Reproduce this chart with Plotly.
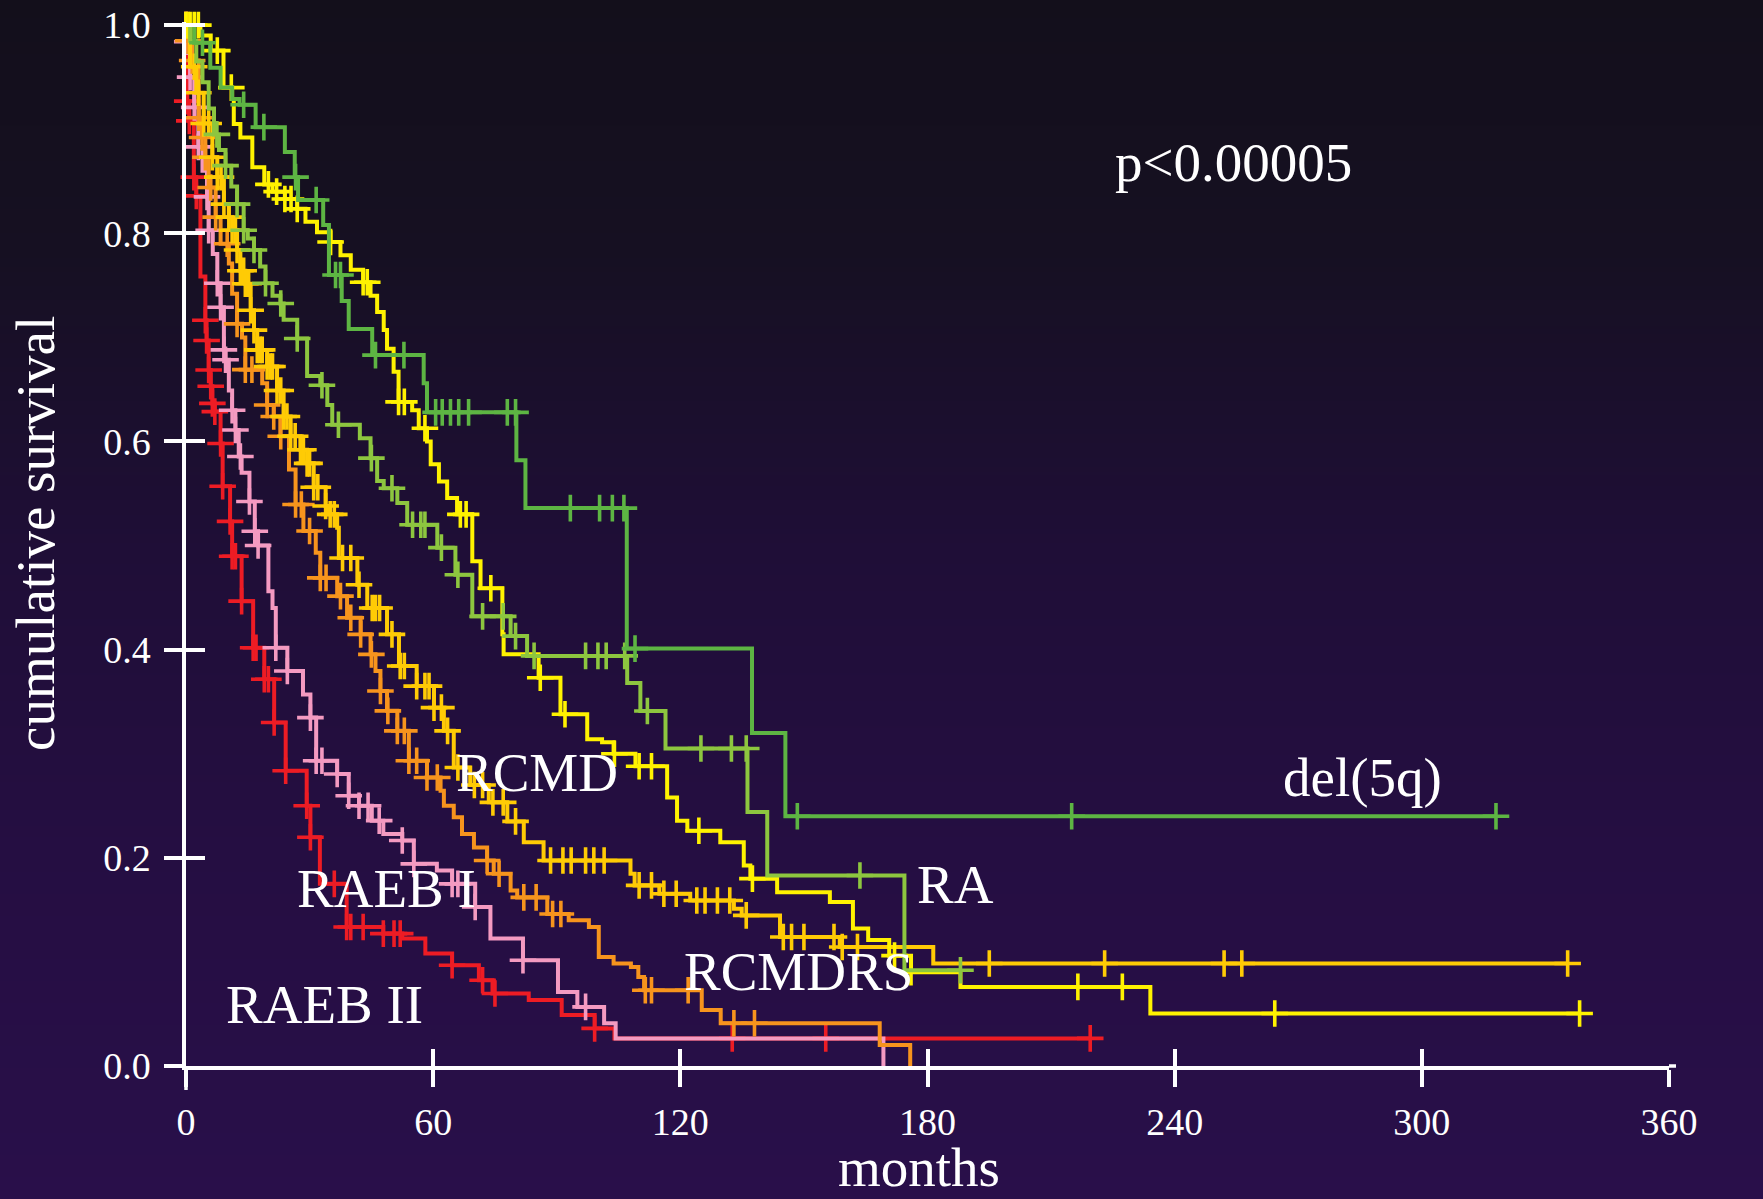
import base64
import bisect
import struct
import zlib

import plotly.graph_objects as go

# ---------------- data (months, cumulative survival) ----------------
x_ticks = [0, 60, 120, 180, 240, 300, 360]
y_ticks = [0.0, 0.2, 0.4, 0.6, 0.8, 1.0]
y_tick_labels = ["0.0", "0.2", "0.4", "0.6", "0.8", "1.0"]

# del(5q)
del5q_t = [2, 5.9, 8.4, 11.2, 13, 16.9, 24, 26.4, 27.2, 33.3, 34.7, 37.8, 39.5, 45.2,
           57.7, 58.5, 80.2, 82.4, 107, 137.4, 145.5]
del5q_s = [0.983, 0.959, 0.94, 0.929, 0.9235, 0.902, 0.878, 0.854, 0.832, 0.808, 0.760,
           0.735, 0.708, 0.683, 0.656, 0.628, 0.582, 0.536, 0.401, 0.320, 0.240]
del5q_c = [4, 14, 18.9, 26.6, 31.6, 36.3, 37.5, 46, 52.9, 60.6, 62.2, 64.2, 66.2, 68.6,
           78, 80, 93.3, 100.4, 103.5, 106.3, 109, 148.4, 215, 318]

# RA
ra_t = [1, 2.5, 4, 5.5, 6.8, 8, 9.6, 11, 12.4, 14, 15, 16.5, 18, 19.3, 21, 22.9, 23.7,
        27, 29.4, 32.6, 34.3, 35.5, 42.2, 44.8, 46.4, 48, 51.3, 53.7, 61, 65.4, 69.5,
        78.8, 82.8, 107.1, 110.3, 116.4, 136.3, 141.1, 174.4]
ra_s = [0.985, 0.965, 0.945, 0.92, 0.895, 0.88, 0.865, 0.845, 0.828, 0.803, 0.795,
        0.784, 0.768, 0.752, 0.74, 0.7325, 0.717, 0.699, 0.663, 0.654, 0.635, 0.616,
        0.603, 0.584, 0.562, 0.555, 0.541, 0.52, 0.498, 0.472, 0.432, 0.413, 0.394,
        0.368, 0.341, 0.305, 0.244, 0.183, 0.092]
ra_c = [7.5, 9.6, 12.4, 14, 16.5, 19.3, 23, 27, 33, 37, 45, 50, 55, 57, 58, 62, 66, 72,
        77, 80, 84.5, 97, 100, 102, 106.5, 112, 125, 132.4, 136, 163.6, 188]

# RARS
rars_t = [3.5, 6, 9.1, 11.2, 11.6, 13.2, 16.1, 19, 21, 24, 27, 29, 31.8, 35.1, 37.5, 40,
          43, 44.8, 46.4, 48, 48.8, 50.4, 51.6, 54.9, 56.5, 58.5, 59.4, 61.4, 63.4,
          65.8, 69.5, 71.5, 76.8, 77.1, 85.6, 90.9, 97.4, 101, 103.8, 109.1, 116.8,
          119.2, 121.7, 129.7, 135.4, 137, 143.5, 156.3, 161.9, 165.6, 170.7, 176,
          188, 234.1]
rars_s = [0.99, 0.9755, 0.94, 0.929, 0.905, 0.892, 0.8635, 0.847, 0.84, 0.833, 0.8235,
          0.811, 0.801, 0.7916, 0.779, 0.765, 0.753, 0.74, 0.7245, 0.707, 0.689, 0.667,
          0.638, 0.630, 0.6127, 0.600, 0.578, 0.5616, 0.5456, 0.530, 0.485, 0.459,
          0.4147, 0.3955, 0.373, 0.338, 0.314, 0.311, 0.30, 0.288, 0.258, 0.2357,
          0.226, 0.215, 0.1926, 0.180, 0.167, 0.1575, 0.132, 0.121, 0.106, 0.090,
          0.076, 0.0505]
rars_c = [0, 1, 2, 3, 7.6, 11, 20, 22, 24, 25.5, 27, 35.1, 43, 44, 51.6, 53, 58, 66.6,
          68, 74, 86, 92, 104, 110, 113, 124.5, 137.5, 172, 176, 216.5, 227.3, 264.3,
          338.3]

# RCMD
rcmd_t = [1, 2.5, 4.3, 6.4, 7.6, 9.2, 10.4, 11.2, 12.4, 13.2, 14.4, 15.7, 16.5, 17.3,
          19.7, 22.1, 23.7, 25.4, 27.8, 29.4, 31, 33.9, 34.3, 36.7, 37.1, 41.6, 44,
          48.8, 51.7, 56, 60.2, 62.6, 65, 69, 73.5, 78, 82, 86.8, 107.9, 108.9, 114.9,
          122.4, 133, 134.9, 144.2, 158.7, 181.4]
rcmd_s = [0.96, 0.935, 0.9055, 0.873, 0.854, 0.828, 0.8155, 0.803, 0.784, 0.764,
          0.7516, 0.726, 0.707, 0.688, 0.672, 0.649, 0.624, 0.605, 0.592, 0.579, 0.556,
          0.538, 0.530, 0.517, 0.488, 0.4624, 0.44, 0.4147, 0.3843, 0.365, 0.3443,
          0.322, 0.2868, 0.27, 0.2533, 0.235, 0.215, 0.1974, 0.1847, 0.1735, 0.1655,
          0.159, 0.151, 0.1447, 0.124, 0.1143, 0.0985]
rcmd_c = [0, 0.5, 2, 3, 4.3, 5.5, 6.4, 7.6, 8.5, 9.2, 10.4, 11.2, 12, 12.4, 13.2, 14,
          14.4, 15.2, 15.7, 16.5, 17.3, 18, 18.5, 19.7, 20.5, 21, 22.1, 23, 23.7, 24.5,
          25.4, 26.5, 27.8, 28.5, 29.4, 30, 31, 32, 33.9, 35, 36, 38, 40, 42, 45.2, 46,
          47, 50, 52, 53, 56, 58, 59, 60.2, 62, 63.5, 66, 70, 72, 74.5, 77, 80, 88.5,
          91.5, 93.5, 97, 99, 101.5, 110, 113, 116, 119, 124, 126, 129, 132, 136, 145,
          147, 150, 157.3, 159.3, 163, 195, 223, 252, 256.3, 335.4]

# RCMDRS
rcmdrs_t = [0.5, 1.5, 3.1, 3.9, 4.7, 5.5, 7.2, 8.4, 10.4, 11.2, 12.4, 13.6, 14.4, 18.5,
            19.7, 21.3, 22.9, 25, 26.6, 28.5, 31.5, 32.6, 36.7, 39.1, 42.4, 44.8, 46,
            47.2, 48.8, 51.3, 54.1, 58.5, 61.8, 62.6, 65, 67, 69.9, 73.1, 74.7, 78.8,
            80.4, 87.7, 92.9, 97.8, 100.2, 103.8, 108, 109.8, 111.2, 125.2, 129.8,
            168.4, 175.8]
rcmdrs_s = [0.985, 0.966, 0.911, 0.892, 0.873, 0.844, 0.8155, 0.79, 0.771, 0.742,
            0.713, 0.70, 0.669, 0.656, 0.635, 0.624, 0.605, 0.573, 0.5395, 0.514,
            0.493, 0.469, 0.4514, 0.4306, 0.4147, 0.3955, 0.3795, 0.3603, 0.3412,
            0.322, 0.2933, 0.2772, 0.2645, 0.25, 0.239, 0.223, 0.21, 0.1974, 0.1847,
            0.1687, 0.162, 0.146, 0.14, 0.1335, 0.1047, 0.0985, 0.095, 0.0856, 0.0728,
            0.0537, 0.041, 0.0201, 0.0]
rcmdrs_c = [0.5, 1.5, 3.1, 3.9, 4.7, 6, 7.2, 10, 12.4, 14.4, 16, 19.7, 21.3, 23, 26.6,
            28, 30, 32.6, 34, 37.5, 40, 42.4, 45, 47.2, 49, 51.3, 53, 54.1, 56, 58.5,
            61, 73.1, 76, 82, 85, 89, 91, 111.5, 113, 121.9, 133, 138]

# RAEB I
raeb1_t = [0.3, 1, 2, 3, 4, 5.1, 5.5, 6.5, 7.6, 8.4, 9.2, 9.6, 10.4, 11.2, 12, 12.8,
           13.5, 15.4, 16.7, 17.5, 20, 21, 21.8, 24.6, 28.4, 30.2, 31.6, 36.7, 39.5,
           42, 45.1, 47.9, 52.5, 55.3, 60.9, 64.6, 70.2, 73.9, 81.8, 90.3, 95, 101.5,
           104.3, 169.3]
raeb1_s = [0.984, 0.95, 0.921, 0.883, 0.86, 0.835, 0.803, 0.78, 0.752, 0.729, 0.688,
           0.6785, 0.649, 0.630, 0.611, 0.5855, 0.57, 0.5424, 0.5137, 0.5, 0.456, 0.44,
           0.4018, 0.3795, 0.357, 0.3347, 0.2932, 0.2805, 0.2597, 0.25, 0.2357, 0.223,
           0.2166, 0.1942, 0.1878, 0.175, 0.1527, 0.1224, 0.1016, 0.0712, 0.0568,
           0.041, 0.0265, 0.0]
raeb1_c = [0, 0.3, 1, 2, 3, 5.1, 5.5, 7.6, 8.4, 9.2, 9.6, 11.2, 12, 13.2, 15.4, 16.7,
           17.5, 21.8, 24.6, 30.2, 31.6, 33, 36.7, 39.5, 42, 44.2, 46.9, 52.5, 55.3,
           64.6, 66, 70.2, 81.8, 97]

# RAEB II
raeb2_t = [0.1, 0.3, 0.8, 1.9, 2.5, 3.5, 4.7, 5, 5.5, 6, 6.4, 7, 8.4, 8.9, 10.7, 11.2,
           13.5, 16.3, 19, 21.4, 24.2, 29.3, 30.2, 32.5, 39, 47.9, 52.5, 58.1, 64.6,
           71.1, 74.4, 83.2, 91.2, 99.2, 104]
raeb2_s = [0.966, 0.927, 0.908, 0.854, 0.836, 0.7585, 0.7165, 0.697, 0.6686, 0.653,
           0.6366, 0.6287, 0.598, 0.557, 0.5232, 0.4897, 0.4466, 0.4018, 0.3715, 0.33,
           0.2837, 0.2501, 0.2197, 0.175, 0.1335, 0.1272, 0.1224, 0.108, 0.0968,
           0.0824, 0.0697, 0.0633, 0.0489, 0.0361, 0.0265]
raeb2_c = [0, 0.3, 0.8, 1.9, 2.5, 4.7, 5, 5.5, 6, 6.4, 7, 8.4, 8.9, 10.7, 11.2, 12, 13.5,
           16.3, 17, 19, 20, 21.4, 24.2, 29.3, 30.2, 36, 39, 40, 43, 47.9, 50.5, 52,
           64.6, 72, 75, 99.2, 132.6, 155.3, 219.5]

# curve labels and their positions (months, survival)
label_text = ["RCMD", "RCMDRS", "RA", "del(5q)", "RARS", "RAEB I", "RAEB II"]
label_x = [85.1, 148.6, 186.7, 285.7, 364.1, 48.6, 33.7]
label_y = [0.282, 0.0912, 0.1742, 0.277, 0.0472, 0.1703, 0.0587]
pvalue_text = "p<0.00005"
pvalue_pos = (254.2, 0.868)

# ---------------- styling ----------------
FONT = "Liberation Serif"
W, H = 1763, 1199
ML, MR, MT, MB = 186, 94, 22, 133
PW, PH = W - ML - MR, H - MT - MB

curves = [
    ("RAEB II", raeb2_t, raeb2_s, raeb2_c, "#ed1c24"),
    ("RAEB I", raeb1_t, raeb1_s, raeb1_c, "#f49ac1"),
    ("RCMDRS", rcmdrs_t, rcmdrs_s, rcmdrs_c, "#f7941d"),
    ("RCMD", rcmd_t, rcmd_s, rcmd_c, "#ffcb05"),
    ("RARS", rars_t, rars_s, rars_c, "#fff200"),
    ("RA", ra_t, ra_s, ra_c, "#8dc63f"),
    ("del(5q)", del5q_t, del5q_s, del5q_c, "#5db543"),
]


def step_xy(t, s, c):
    xs, ys = [0.0], [1.0]
    for ti, si in zip(t, s):
        xs.append(ti)
        ys.append(si)
    end = max(c) if c else xs[-1]
    if end > xs[-1] and ys[-1] > 0:
        xs.append(end)
        ys.append(ys[-1])
    return xs, ys


def surv_at(t, s, x):
    i = bisect.bisect_right(t, x)
    return 1.0 if i == 0 else s[i - 1]


def gradient_png(stops, h, w=4):
    rows = bytearray()
    for y in range(h):
        for k in range(len(stops) - 1):
            y0, c0 = stops[k]
            y1, c1 = stops[k + 1]
            if y0 <= y <= y1:
                f = (y - y0) / (y1 - y0)
                col = [int(round(a + (b - a) * f)) for a, b in zip(c0, c1)]
                break
        rows += b"\x00" + bytes(col) * w

    def chunk(tag, data):
        return (struct.pack(">I", len(data)) + tag + data
                + struct.pack(">I", zlib.crc32(tag + data) & 0xFFFFFFFF))

    png = (b"\x89PNG\r\n\x1a\n"
           + chunk(b"IHDR", struct.pack(">IIBBBBB", w, h, 8, 2, 0, 0, 0))
           + chunk(b"IDAT", zlib.compress(bytes(rows), 9))
           + chunk(b"IEND", b""))
    return "data:image/png;base64," + base64.b64encode(png).decode()


bg_stops = [(0, (19, 15, 27)), (250, (22, 16, 34)), (550, (31, 14, 55)),
            (850, (37, 14, 66)), (H - 1, (41, 15, 74))]

fig = go.Figure()

for name, t, s, c, col in curves:
    xs, ys = step_xy(t, s, c)
    fig.add_trace(go.Scatter(x=xs, y=ys, mode="lines", line=dict(color=col, width=4, shape="hv"),
                             name=name, showlegend=False, hoverinfo="skip"))
    fig.add_trace(go.Scatter(x=c, y=[surv_at(t, s, v) for v in c], mode="markers",
                             marker=dict(symbol="cross-thin", size=19, color=col,
                                         line=dict(color=col, width=3.6)),
                             cliponaxis=False, showlegend=False, hoverinfo="skip"))

# dummy trace so that the overlay axes (cross ticks) are drawn
fig.add_trace(go.Scatter(x=[0], y=[0], xaxis="x2", yaxis="y2", mode="markers",
                         marker=dict(opacity=0), showlegend=False, hoverinfo="skip"))

axis_common = dict(showgrid=False, zeroline=False, tickcolor="white", tickwidth=3.5,
                   automargin=False)
fig.update_layout(
    width=W, height=H,
    margin=dict(l=ML, r=MR, t=MT, b=MB, pad=0, autoexpand=False),
    paper_bgcolor="#1f0e38",
    plot_bgcolor="rgba(0,0,0,0)",
    font=dict(family=FONT, color="white"),
    xaxis=dict(range=[0, 360], tickvals=x_ticks, ticks="outside", ticklen=17,
               showline=True, linecolor="white", linewidth=3.5,
               tickfont=dict(family=FONT, size=38, color="white"),
               ticklabelstandoff=3, **axis_common),
    yaxis=dict(range=[0, 1.003], tickvals=y_ticks, ticktext=y_tick_labels, ticks="outside",
               ticklen=18, showline=True, linecolor="white", linewidth=3.5,
               tickfont=dict(family=FONT, size=38, color="white"),
               ticklabelstandoff=6, **axis_common),
    xaxis2=dict(range=[0, 360], tickvals=x_ticks, ticks="inside", ticklen=17,
                overlaying="x", anchor="y2", showticklabels=False, showline=False,
                **axis_common),
    yaxis2=dict(range=[0, 1.003], tickvals=y_ticks, ticks="inside", ticklen=19,
                overlaying="y", anchor="x2", showticklabels=False, showline=False,
                **axis_common),
    images=[dict(source=gradient_png(bg_stops, H), xref="paper", yref="paper",
                 x=-ML / PW, y=1 + MT / PH, sizex=W / PW, sizey=H / PH,
                 xanchor="left", yanchor="top", sizing="stretch", layer="below")],
    shapes=[
        dict(type="line", xref="paper", yref="paper", x0=0, x1=0, y0=-24 / PH, y1=0,
             line=dict(color="white", width=3.5)),
        dict(type="line", xref="paper", yref="paper", x0=1, x1=1 + 7 / PW, y0=0, y1=0,
             line=dict(color="white", width=3.5)),
    ],
)

annotations = []
for txt, lx, ly in zip(label_text, label_x, label_y):
    annotations.append(dict(text=txt, x=lx, y=ly, xref="x", yref="y", showarrow=False,
                            xanchor="center", yanchor="middle",
                            font=dict(family=FONT, size=55, color="white")))
annotations.append(dict(text=pvalue_text, x=pvalue_pos[0], y=pvalue_pos[1], xref="x",
                        yref="y", showarrow=False, xanchor="center", yanchor="middle",
                        font=dict(family=FONT, size=55, color="white")))
annotations.append(dict(text="cumulative survival", x=(35 - ML) / PW, y=(H - MB - 534) / PH,
                        xref="paper", yref="paper", showarrow=False, textangle=-90,
                        xanchor="center", yanchor="middle",
                        font=dict(family=FONT, size=55, color="white")))
annotations.append(dict(text="months", x=(919 - ML) / PW, y=(H - MB - 1167.5) / PH,
                        xref="paper", yref="paper", showarrow=False,
                        xanchor="center", yanchor="middle",
                        font=dict(family=FONT, size=55, color="white")))
fig.update_layout(annotations=annotations)

page_js = ("document.body.style.margin='0';document.body.style.padding='0';"
           "document.body.style.background='#1f0e38';"
           "document.documentElement.style.overflow='hidden';")
fig.write_html("out.html", post_script=page_js, config={"displayModeBar": False})
